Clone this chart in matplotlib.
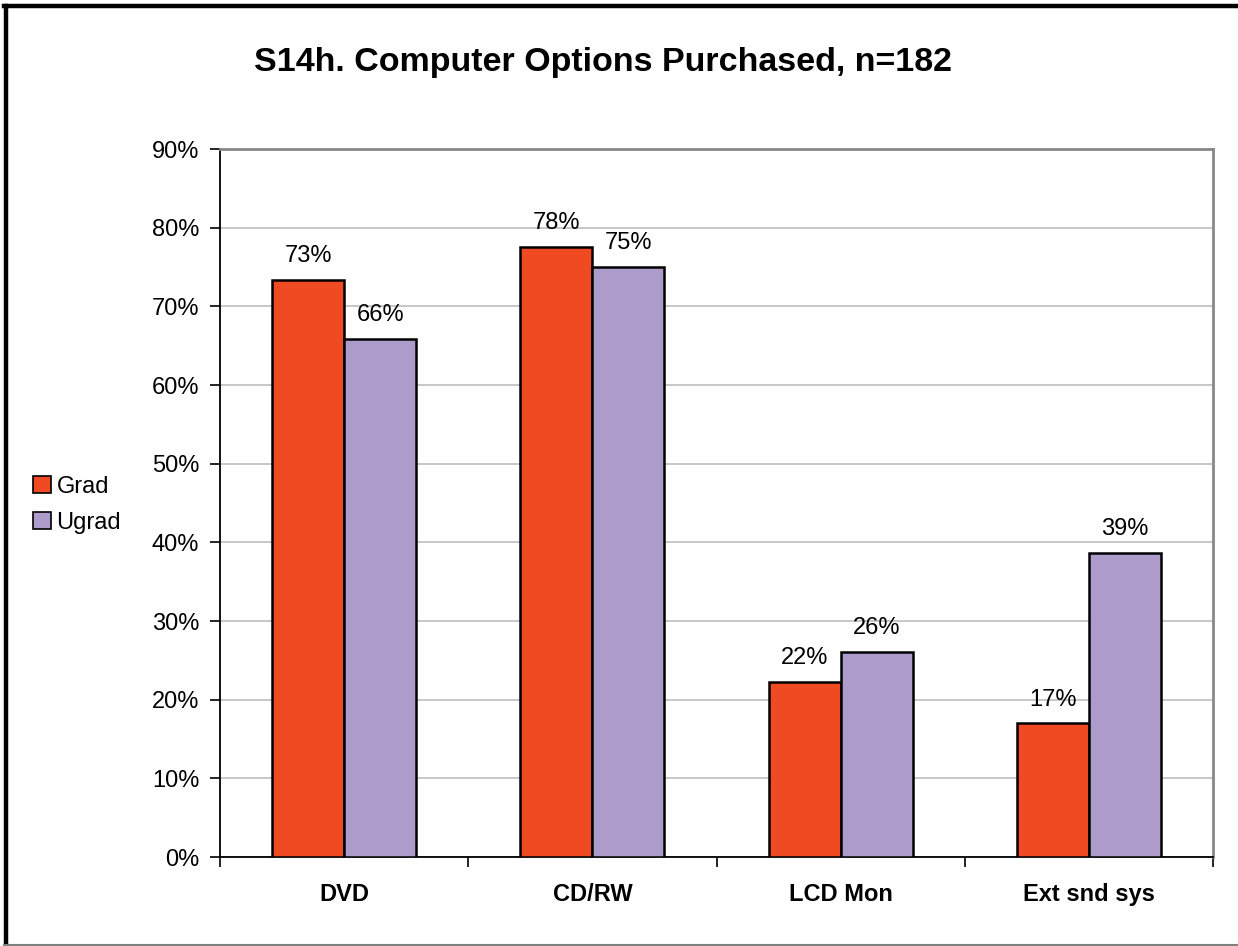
import matplotlib
matplotlib.use("Agg")
import matplotlib.pyplot as plt
from matplotlib.lines import Line2D
from matplotlib.patches import Rectangle
import numpy as np

categories = ["DVD", "CD/RW", "LCD Mon", "Ext snd sys"]
grad = [73.4, 77.6, 22.3, 17.0]
ugrad = [65.9, 75.0, 26.1, 38.7]
grad_labels = ["73%", "78%", "22%", "17%"]
ugrad_labels = ["66%", "75%", "26%", "39%"]
yticks = [0, 10, 20, 30, 40, 50, 60, 70, 80, 90]

plt.rcParams['font.family'] = ['Liberation Sans', 'DejaVu Sans']

fig = plt.figure(figsize=(12.38, 9.46), dpi=100)
ax = fig.add_axes([220/1238, (946-857)/946, (1213-220)/1238, (857-149)/946])

x = np.arange(len(categories))
w = 0.29
c_grad = "#F04A23"
c_ugrad = "#AD9BCB"
ax.bar(x - w/2, grad, w, color=c_grad, edgecolor="black", linewidth=1.8, zorder=3, label="Grad")
ax.bar(x + w/2, ugrad, w, color=c_ugrad, edgecolor="black", linewidth=1.8, zorder=3, label="Ugrad")

for xi, v, t in zip(x - w/2, grad, grad_labels):
    ax.text(xi, v + 1.6, t, ha="center", va="bottom", fontsize=17)
for xi, v, t in zip(x + w/2, ugrad, ugrad_labels):
    ax.text(xi, v + 1.6, t, ha="center", va="bottom", fontsize=17)

ax.set_xlim(-0.5, len(categories) - 0.5)
ax.set_ylim(0, 90)
ax.set_yticks(yticks)
ax.set_yticklabels([f"{t}%" for t in yticks], fontsize=17)
ax.yaxis.grid(True, color="#BDBDBD", linewidth=1.2, zorder=0)
ax.set_axisbelow(True)

ax.set_xticks(np.arange(-0.5, len(categories), 1.0), minor=False)
ax.set_xticklabels([])
ax.tick_params(axis="x", direction="out", length=7, width=1.2)
ax.tick_params(axis="y", direction="out", length=7, width=1.2, pad=8)
ax.set_xticks(x, minor=True)
ax.set_xticklabels(categories, minor=True, fontsize=17, fontweight="bold")
ax.tick_params(axis="x", which="minor", length=0, pad=19)

for s in ["left", "bottom"]:
    ax.spines[s].set_color("black")
    ax.spines[s].set_linewidth(1.3)
for s in ["top", "right"]:
    ax.spines[s].set_color("#888888")
    ax.spines[s].set_linewidth(2.0)

fig.text(0.5 * (248 + 957) / 1238, 1 - 63/946, "S14h. Computer Options Purchased, n=182",
         ha="center", va="center", fontsize=24.5, fontweight="bold")

handles = [Rectangle((0, 0), 1, 1, facecolor=c_grad, edgecolor="black", linewidth=1.2),
           Rectangle((0, 0), 1, 1, facecolor=c_ugrad, edgecolor="black", linewidth=1.2)]
fig.legend(handles, ["Grad", "Ugrad"], loc="center left", bbox_to_anchor=(21/1238, 1 - 505/946),
           frameon=False, fontsize=17, handlelength=0.75, handleheight=0.75, handletextpad=0.25,
           labelspacing=0.6, borderpad=0)

# figure frame
fig.add_artist(Line2D([5.5/1238, 5.5/1238], [0, 1 - 6.5/946], transform=fig.transFigure, color="black", linewidth=3.2))
fig.add_artist(Line2D([4/1238, 1], [1 - 6.5/946, 1 - 6.5/946], transform=fig.transFigure, color="black", linewidth=3.2))
fig.add_artist(Line2D([4/1238, 1], [1.5/946, 1.5/946], transform=fig.transFigure, color="#808080", linewidth=1.5))

fig.savefig("out.png", dpi=100)
